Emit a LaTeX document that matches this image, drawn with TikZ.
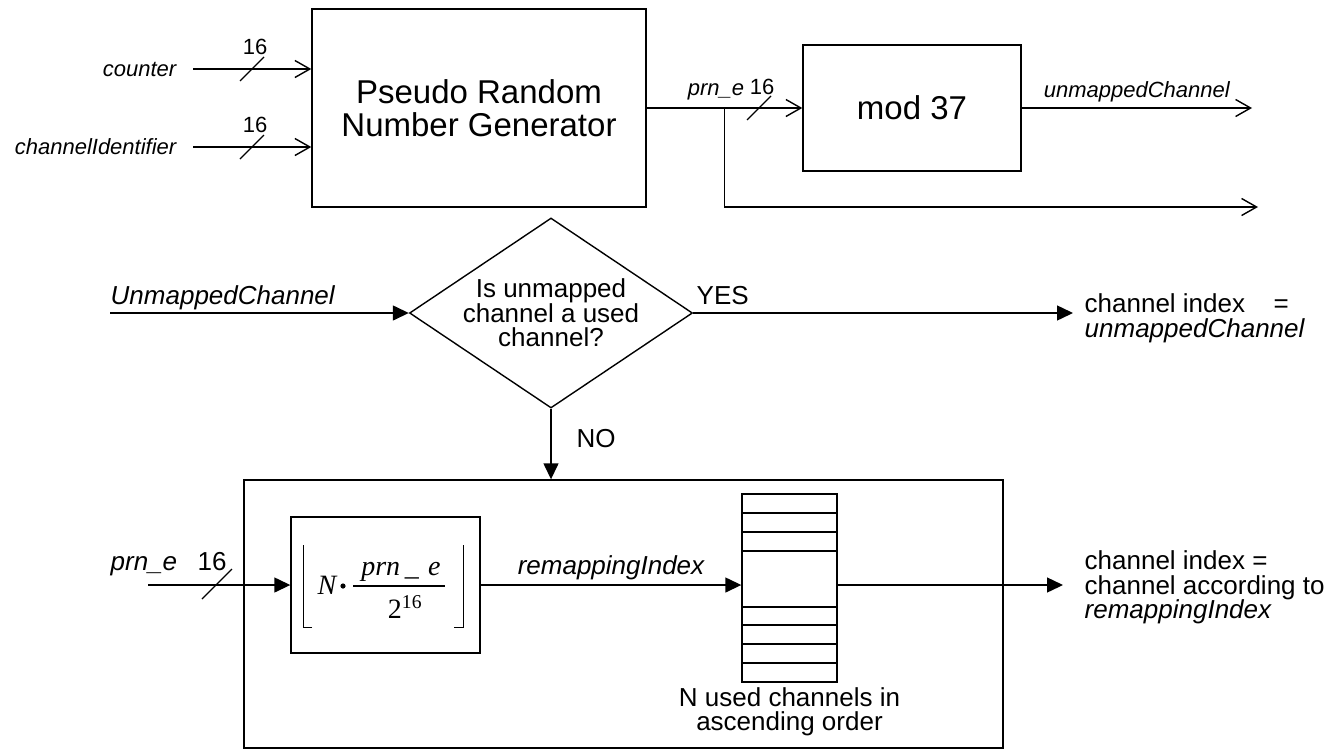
\documentclass[tikz,border=0pt]{standalone}
\usepackage{fontspec}
\setmainfont{Liberation Sans}
\newfontfamily\timesfont{Liberation Serif}
\usetikzlibrary{arrows.meta, positioning, shapes.geometric, calc}

\newcommand\fbig{\fontsize{33}{33}\selectfont}
\newcommand\fmid{\fontsize{26}{24.5}\selectfont}
\newcommand\fsmall{\fontsize{22}{24}\selectfont}
\newcommand\fformula{\timesfont\fontsize{28}{28}\selectfont}

\begin{document}
\begin{tikzpicture}[x=1pt, y=-1pt, line width=1.4pt,
  blockbox/.style={draw, font=\fbig, align=center, inner sep=0pt},
  lbl/.style={font=\fsmall\itshape, inner sep=1pt},
  wlbl/.style={font=\fsmall, inner sep=1pt},
  txt/.style={font=\fmid, inner sep=1pt, align=left},
  fml/.style={font=\fformula, inner sep=0pt},
  openarrow/.style={-{Straight Barb[length=15pt,width=17pt]}},
  filledarrow/.style={-{Triangle[length=16pt,width=15pt]}},
  busmark/.style={line width=1.2pt}]
  \useasboundingbox (0,0) rectangle (1335,750);

  % Pseudo random number stage
  \node[blockbox, minimum width=334pt, minimum height=198pt] (prng) at (479,108) {Pseudo Random\\Number Generator};
  \node[blockbox, minimum width=218pt, minimum height=126pt] (mod) at (912,108) {mod 37};

  \coordinate (ctrin) at (193,69);
  \coordinate (cidin) at (193,147);
  \node[lbl, left=15pt of ctrin] (ctrlbl) {counter};
  \node[lbl, left=15pt of cidin] (cidlbl) {channelIdentifier};
  \draw[openarrow] (ctrin) -- (ctrin -| prng.west);
  \draw[openarrow] (cidin) -- (cidin -| prng.west);

  % 16 bit buses
  \coordinate (ctrbus) at (252,69);
  \coordinate (cidbus) at (252,147);
  \draw[busmark] ([shift={(-12,12)}]ctrbus) -- ([shift={(12,-12)}]ctrbus);
  \draw[busmark] ([shift={(-12,12)}]cidbus) -- ([shift={(12,-12)}]cidbus);
  \node[wlbl] (ctrw) at (255,47) {16};
  \node[wlbl] (cidw) at (255,125) {16};

  \coordinate (prnsplit) at ([xshift=78pt]prng.east);
  \coordinate (prnout) at (1258,207);
  \draw[openarrow] (prng.east) -- (mod.west);
  \draw[openarrow] (prnsplit) |- (prnout);
  \node[lbl] (prnlbl) at (716,92) {prn\_e};
  \coordinate (prnbus) at (759,108);
  \draw[busmark] ([shift={(-12,12)}]prnbus) -- ([shift={(12,-12)}]prnbus);
  \node[wlbl] (prnw) at (762,87) {16};

  \coordinate (umout) at (1252,108);
  \draw[openarrow] (mod.east) -- (umout) node[lbl, midway, above=4pt] (umlbl) {unmappedChannel};

  % Decision
  \node[draw, diamond, aspect=1.49, minimum width=283pt, minimum height=190pt, inner sep=0pt, font=\fmid, align=center] (decide) at (551,313) {Is unmapped\\channel a used\\channel?};
  \coordinate (umin) at (110,313);
  \draw[filledarrow] (umin) -- (decide.west);
  \node[txt, anchor=base west, font=\fmid\itshape] (uminlbl) at (109,304) {UnmappedChannel};

  \coordinate (yestip) at (1073,313);
  \draw[filledarrow] (decide.east) -- (yestip);
  \node[txt, anchor=base west] (yeslbl) at (695,304) {YES};
  \node[txt, anchor=north west] (outum) at (1083,292) {channel index\hspace{1.1em}=\\\textit{unmappedChannel}};

  % Remapping
  \node[draw, minimum width=759pt, minimum height=268pt, inner sep=0pt] (remap) at (623.5,614) {};
  \draw[filledarrow] (decide.south) -- (decide.south |- remap.north);
  \node[txt, anchor=base west] (nolbl) at (575,447) {NO};

  \node[draw, minimum width=189pt, minimum height=136pt, inner sep=0pt] (floorbox) at (385.5,585) {};
  \coordinate (prnin) at (148,585);
  \draw[filledarrow] (prnin) -- (floorbox.west);
  \node[txt, anchor=base west, font=\fmid\itshape] (prninlbl) at (109,570) {prn\_e};
  \node[txt, anchor=base west] (prninw) at (196,570) {16};
  \coordinate (prninbus) at (217,584);
  \draw[busmark] ([shift={(-15,15)}]prninbus) -- ([shift={(15,-15)}]prninbus);

  % floor formula
  \node[fml, font=\fformula\itshape] (fN) at (327,585) {N};
  \fill (343,586) circle (2.6pt);
  \node[fml, font=\fformula\itshape, anchor=base] (fnum) at (401,575) {prn\,\_\,\,e};
  \draw[line width=1.1pt] (353,586) -- (445,586);
  \node[fml, anchor=base] (fden) at (405,618) {2\textsuperscript{16}};
  \draw[line width=1pt] (312,627) -- (303,627) -- (303,545);
  \draw[line width=1pt] (454,627) -- (463,627) -- (463,545);

  % used channel table
  \node[draw, minimum width=95pt, minimum height=188pt, inner sep=0pt] (chtab) at (789.5,588) {};
  \foreach \y in {513,532,551,607,625,644,663}
    \draw (742,\y) -- (837,\y);
  \node[txt, align=center, below=3pt of chtab] (tablbl) {N used channels in\\ascending order};

  \draw[filledarrow] (floorbox.east) -- (chtab.west |- floorbox.east) node[midway, above=3pt, txt, font=\fmid\itshape] (rilbl) {remappingIndex};
  \coordinate (remaptip) at (1063,585);
  \draw[filledarrow] (chtab.east |- floorbox.east) -- (remaptip);
  \node[txt, anchor=north west] (outremap) at (1083,549) {channel index =\\channel according to\\\textit{remappingIndex}};
\end{tikzpicture}
\end{document}
